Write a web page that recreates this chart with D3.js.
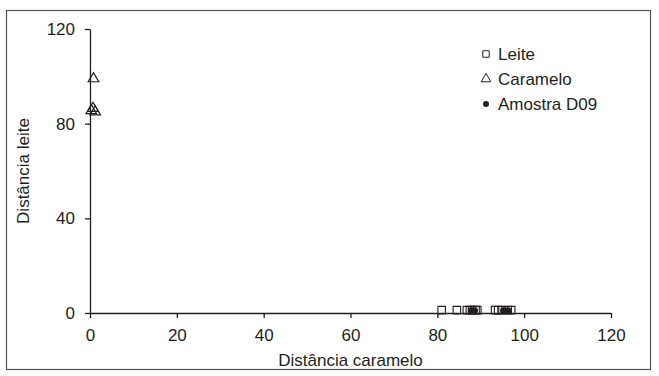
<!DOCTYPE html>
<html>
<head>
<meta charset="utf-8">
<script src="https://cdn.jsdelivr.net/npm/d3@7"></script>
<style>
  body { margin: 0; background: #fff; }
  svg text { font-family: "Liberation Sans", Arial, sans-serif; fill: #231f20; }
</style>
</head>
<body>
<div id="chart"></div>
<script>
// Leite (squares), Caramelo (triangles), Amostra D09 (dots)
const leiteX = [81, 84.5, 86.8, 87.5, 88, 88.8, 89.2, 93.3, 94, 94.8, 96.2, 97];
const leiteY = [1.2, 1.2, 1.2, 1.2, 1.2, 1.2, 1.2, 1.2, 1.2, 1.2, 1.2, 1.2];
const caramX = [0.8, 0.3, 0.7, 1.2];
const caramY = [99, 85.5, 86.5, 85];
const amostraX = [87.8, 88.6, 95.2, 96.3];
const amostraY = [1, 1, 1, 1];
const xTicks = [0, 20, 40, 60, 80, 100, 120];
const yTicks = [0, 40, 80, 120];
const legendLabels = ['Leite', 'Caramelo', 'Amostra D09'];

const width = 659, height = 376;
const ink = '#231f20';

const svg = d3.select('#chart').append('svg')
    .attr('width', width)
    .attr('height', height);

// outer frame
svg.append('rect')
    .attr('x', 6.5).attr('y', 10.5)
    .attr('width', 644).attr('height', 359)
    .attr('fill', 'none')
    .attr('stroke', '#555')
    .attr('stroke-width', 1.2);

const x = d3.scaleLinear().domain([0, 120]).range([90, 611]);
const y = d3.scaleLinear().domain([0, 120]).range([313, 29]);

const xAxis = svg.append('g')
    .attr('transform', `translate(0,${y(0)})`)
    .call(d3.axisBottom(x).tickValues(xTicks).tickSize(5).tickSizeOuter(0).tickPadding(11));
const yAxis = svg.append('g')
    .attr('transform', `translate(${x(0)},0)`)
    .call(d3.axisLeft(y).tickValues(yTicks).tickSize(5).tickSizeOuter(0).tickPadding(10));

[xAxis, yAxis].forEach(g => {
  g.select('.domain').attr('stroke', ink).attr('stroke-width', 1.3);
  g.selectAll('.tick line').attr('stroke', ink).attr('stroke-width', 1.3);
  g.selectAll('.tick text')
    .style('font-size', '17px')
    .style('font-family', '"Liberation Sans", Arial, sans-serif')
    .attr('fill', ink);
});

// axis titles
svg.append('text')
    .attr('x', (x(0) + x(120)) / 2)
    .attr('y', 366)
    .attr('text-anchor', 'middle')
    .style('font-size', '17px')
    .text('Distância caramelo');
svg.append('text')
    .attr('transform', `translate(29,${y(60)}) rotate(-90)`)
    .attr('text-anchor', 'middle')
    .style('font-size', '17px')
    .text('Distância leite');

const sq = d3.symbol().type(d3.symbolSquare).size(56);
const tri = d3.symbol().type(d3.symbolTriangle).size(48);

const leite = leiteX.map((v, i) => ({ x: v, y: leiteY[i] }));
const caram = caramX.map((v, i) => ({ x: v, y: caramY[i] }));
const amostra = amostraX.map((v, i) => ({ x: v, y: amostraY[i] }));

svg.append('g').selectAll('path')
    .data(leite)
  .enter().append('path')
    .attr('d', sq)
    .attr('transform', d => `translate(${x(d.x)},${y(d.y)})`)
    .attr('fill', 'none')
    .attr('stroke', ink)
    .attr('stroke-width', 1.1);

svg.append('g').selectAll('path')
    .data(caram)
  .enter().append('path')
    .attr('d', tri)
    .attr('transform', d => `translate(${x(d.x)},${y(d.y)})`)
    .attr('fill', 'none')
    .attr('stroke', ink)
    .attr('stroke-width', 1.2);

svg.append('g').selectAll('circle')
    .data(amostra)
  .enter().append('circle')
    .attr('cx', d => x(d.x))
    .attr('cy', d => y(d.y))
    .attr('r', 3.3)
    .attr('fill', ink);

// legend
const legend = svg.append('g').attr('transform', 'translate(486,54)');
const rowH = 25;
legend.append('path').attr('d', d3.symbol().type(d3.symbolSquare).size(42))
    .attr('fill', 'none').attr('stroke', ink).attr('stroke-width', 1);
legend.append('path').attr('d', d3.symbol().type(d3.symbolTriangle).size(40))
    .attr('transform', `translate(0,${rowH})`)
    .attr('fill', 'none').attr('stroke', ink).attr('stroke-width', 1);
legend.append('circle').attr('cy', rowH * 2).attr('r', 3).attr('fill', ink);
legend.selectAll('text')
    .data(legendLabels)
  .enter().append('text')
    .attr('x', 12)
    .attr('y', (d, i) => i * rowH + 6)
    .style('font-size', '17px')
    .text(d => d);
</script>
</body>
</html>
